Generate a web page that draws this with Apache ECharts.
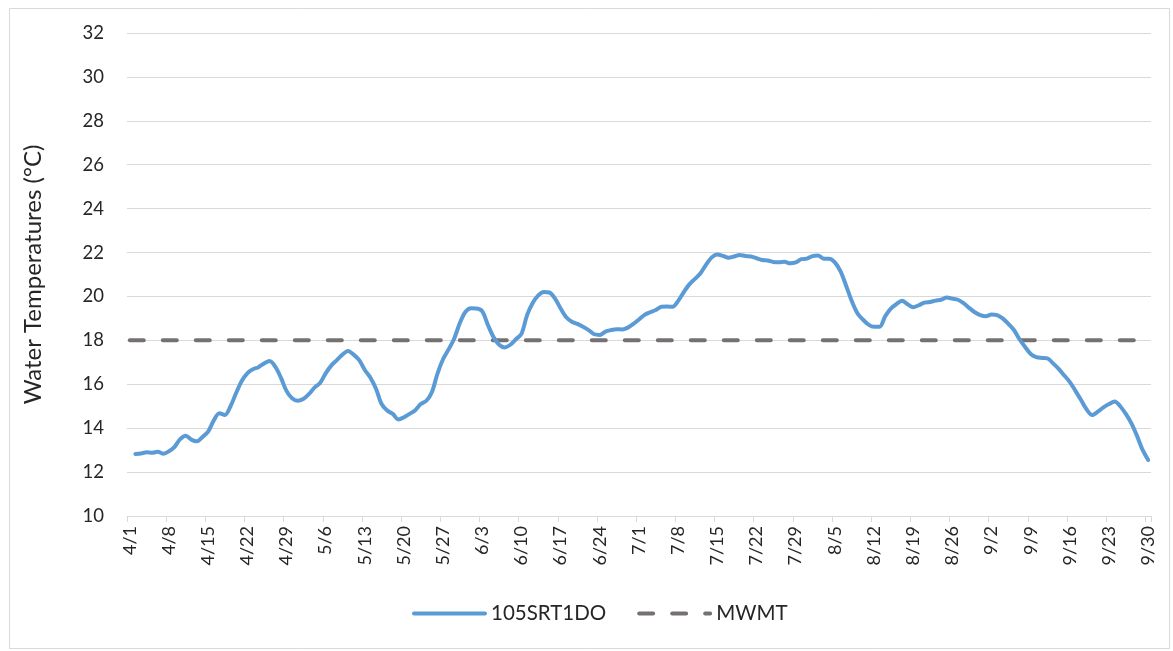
<!DOCTYPE html>
<html>
<head>
<meta charset="utf-8">
<script src="https://cdn.jsdelivr.net/npm/echarts@6/dist/echarts.min.js"></script>
<style>
html,body{margin:0;padding:0;background:#fff;}
#chart{width:1173px;height:651px;}
</style>
</head>
<body>
<div id="chart"></div>
<script>
// Categories: daily dates 4/1 .. 9/30
const monthSpec = [[4, 30], [5, 31], [6, 30], [7, 31], [8, 31], [9, 30]];
const categories = [];
monthSpec.forEach(([m, n]) => { for (let d = 1; d <= n; d++) categories.push(m + '/' + d); });

// 105SRT1DO daily values (first entry 4/1 has no value)
const siteValues = [null,
  12.82, 12.85, 12.90, 12.88, 12.93, 12.84, 12.95, 13.15, 13.50, 13.66,
  13.48, 13.40, 13.60, 13.84, 14.35, 14.68, 14.60, 15.00, 15.60, 16.15,
  16.50, 16.68, 16.78, 16.95, 17.06, 16.80, 16.30, 15.70, 15.36, 15.25,
  15.33, 15.55, 15.85, 16.06, 16.50, 16.85, 17.10, 17.35, 17.52, 17.35,
  17.10, 16.65, 16.30, 15.80, 15.10, 14.80, 14.65, 14.40, 14.50, 14.65,
  14.82, 15.10, 15.25, 15.65, 16.50, 17.15, 17.60, 18.10, 18.80, 19.30,
  19.46, 19.45, 19.32, 18.70, 18.15, 17.80, 17.68, 17.80, 18.05, 18.30,
  19.15, 19.70, 20.05, 20.20, 20.18, 19.90, 19.45, 19.05, 18.85, 18.75,
  18.62, 18.47, 18.28, 18.25, 18.40, 18.47, 18.51, 18.50, 18.58, 18.75,
  18.95, 19.16, 19.28, 19.38, 19.53, 19.54, 19.53, 19.80, 20.20, 20.55,
  20.80, 21.06, 21.45, 21.78, 21.91, 21.85, 21.76, 21.82, 21.89, 21.84,
  21.82, 21.74, 21.66, 21.64, 21.57, 21.56, 21.58, 21.51, 21.55, 21.70,
  21.72, 21.84, 21.87, 21.72, 21.72, 21.55, 21.15, 20.50, 19.80, 19.25,
  18.95, 18.72, 18.62, 18.62, 19.10, 19.45, 19.65, 19.80, 19.65, 19.51,
  19.60, 19.72, 19.75, 19.81, 19.85, 19.95, 19.90, 19.85, 19.70, 19.48,
  19.28, 19.15, 19.10, 19.18, 19.15, 19.00, 18.75, 18.47, 18.05, 17.70,
  17.38, 17.24, 17.20, 17.18, 16.95, 16.70, 16.40, 16.10, 15.70, 15.28,
  14.85, 14.60, 14.75, 14.95, 15.10, 15.21, 15.00, 14.65, 14.22, 13.65,
  13.01, 12.55
];

// MWMT threshold (constant 18 °C)
const mwmtValue = 18;
const mwmtValues = categories.map(() => mwmtValue);

const yTicks = { min: 10, max: 32, interval: 2 };
const seriesNames = ['105SRT1DO', 'MWMT'];

const FONT = 'Lato, "Open Sans", sans-serif';
const TEXT = '#262626';

const chart = echarts.init(document.getElementById('chart'), null, { renderer: 'canvas' });
chart.setOption({
  animation: false,
  backgroundColor: '#fff',
  graphic: [{
    type: 'rect', left: 7, top: 6, silent: true,
    shape: { width: 1160, height: 640 },
    style: { fill: 'none', stroke: '#d9d9d9', lineWidth: 1 }
  }],
  grid: { left: 127, right: 22, top: 33, bottom: 135, containLabel: false },
  legend: {
    top: 603, left: 412, padding: 0,
    itemWidth: 71, itemHeight: 14, itemGap: 31,
    itemStyle: { opacity: 0 },
    lineStyle: { width: 4, cap: 'round' },
    textStyle: { fontFamily: FONT, fontSize: 20.5, color: TEXT, padding: [0, 0, 0, 1] },
    data: seriesNames
  },
  xAxis: {
    type: 'category',
    data: categories,
    boundaryGap: true,
    axisLine: { lineStyle: { color: '#d9d9d9', width: 1 } },
    axisTick: { show: true, interval: 6, length: 6, lineStyle: { color: '#d9d9d9' } },
    axisLabel: { interval: 6, rotate: 90, margin: 10, fontFamily: FONT, fontSize: 18, color: TEXT },
    splitLine: { show: false }
  },
  yAxis: {
    type: 'value',
    min: yTicks.min, max: yTicks.max, interval: yTicks.interval,
    name: 'Water Temperatures (°C)',
    nameLocation: 'middle',
    nameGap: 82,
    nameTextStyle: { fontFamily: FONT, fontSize: 24, color: TEXT },
    axisLine: { show: false },
    axisTick: { show: false },
    axisLabel: { margin: 23, fontFamily: FONT, fontSize: 18.5, color: TEXT },
    splitLine: { lineStyle: { color: '#d9d9d9', width: 1 } }
  },
  series: [
    {
      name: seriesNames[0], type: 'line', data: siteValues,
      symbol: 'none', smooth: 0.3,
      lineStyle: { color: '#5B9BD5', width: 4, join: 'round', cap: 'round' },
      itemStyle: { color: '#5B9BD5' },
      z: 3
    },
    {
      name: seriesNames[1], type: 'line', data: mwmtValues,
      symbol: 'none',
      lineStyle: { color: '#767171', width: 4, type: [14, 19], cap: 'round' },
      itemStyle: { color: '#767171' },
      z: 2
    }
  ]
});
</script>
</body>
</html>
